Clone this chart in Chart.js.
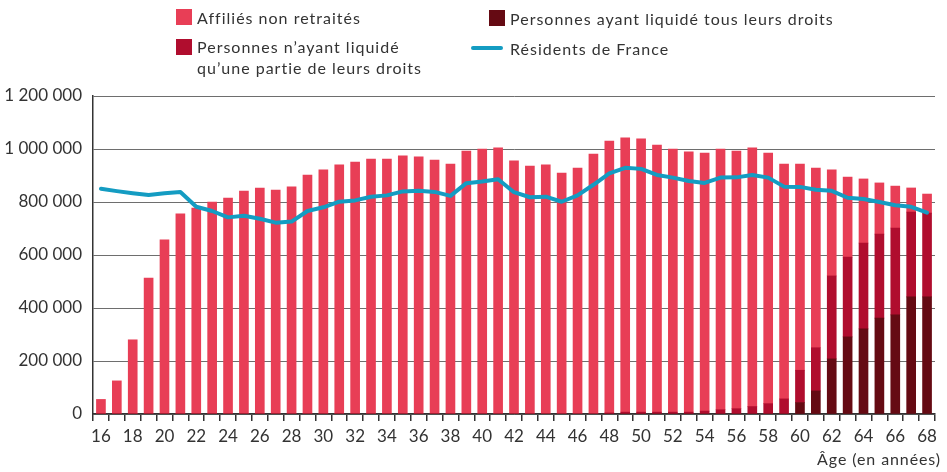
<!DOCTYPE html>
<html lang="fr">
<head>
<meta charset="utf-8">
<title>Affiliés par âge</title>
<script src="https://cdn.jsdelivr.net/npm/chart.js@4"></script>
<style>
  body { margin: 0; background: #fff; font-family: Lato, "Open Sans", sans-serif; color: #333; }
  #wrap { position: relative; width: 947px; height: 472px; }
  .sq { position: absolute; width: 16px; height: 16px; }
  .lbl { position: absolute; font-size: 16px; line-height: 21px; letter-spacing: 1px; white-space: nowrap; color: #333; }
  .ln { position: absolute; width: 32px; height: 4px; border-radius: 2px; background: #149cc2; }
  #xtitle { position: absolute; right: 6px; top: 449px; font-size: 16px; letter-spacing: 0.9px; color: #333; }
</style>
</head>
<body>
<div id="wrap">
  <canvas id="ageChart" width="947" height="472"></canvas>

  <div class="sq" style="left:176px;top:9px;background:#e83e56"></div>
  <div class="lbl" style="left:197px;top:7px">Affiliés non retraités</div>

  <div class="sq" style="left:176px;top:39px;background:#b00d2e"></div>
  <div class="lbl" style="left:197px;top:36px">Personnes n’ayant liquidé<br>qu’une partie de leurs droits</div>

  <div class="sq" style="left:489px;top:10px;background:#650a13"></div>
  <div class="lbl" style="left:510px;top:8px">Personnes ayant liquidé tous leurs droits</div>

  <div class="ln" style="left:471px;top:46px"></div>
  <div class="lbl" style="left:510px;top:38px">Résidents de France</div>

  <div id="xtitle">Âge (en années)</div>
</div>
<script>
// Ages 16 à 68
const ages = [16, 17, 18, 19, 20, 21, 22, 23, 24, 25, 26, 27, 28, 29, 30, 31, 32, 33, 34, 35,
  36, 37, 38, 39, 40, 41, 42, 43, 44, 45, 46, 47, 48, 49, 50, 51, 52, 53, 54, 55,
  56, 57, 58, 59, 60, 61, 62, 63, 64, 65, 66, 67, 68];

// Affiliés non retraités
const nonRetraites = [55000, 125000, 280000, 513000, 657000, 755000, 777000, 800000, 815000, 841000,
  853000, 845000, 857000, 902000, 921000, 940000, 951000, 962000, 962000, 974000,
  970000, 958000, 943000, 992000, 1000000, 1004000, 955000, 936000, 940000, 909000,
  928000, 981000, 1026000, 1035000, 1031000, 1008000, 993000, 982000, 974000, 984000,
  972000, 976000, 946000, 886000, 778000, 678000, 400000, 302000, 242000, 193000,
  158000, 91000, 72000];

// Personnes n'ayant liquidé qu'une partie de leurs droits
const partiel = [0, 0, 0, 0, 0, 0, 0, 0, 0, 0,
  0, 0, 0, 0, 0, 0, 0, 0, 0, 0,
  0, 0, 0, 0, 0, 0, 0, 0, 0, 0,
  0, 0, 4000, 7000, 7000, 7000, 7000, 7000, 11000, 16000,
  20000, 28000, 39000, 57000, 122000, 163000, 313000, 301000, 324000, 317000,
  328000, 320000, 316000];

// Personnes ayant liquidé tous leurs droits
const total = [0, 0, 0, 0, 0, 0, 0, 0, 0, 0,
  0, 0, 0, 0, 0, 0, 0, 0, 0, 0,
  0, 0, 0, 0, 0, 0, 0, 0, 0, 0,
  0, 0, 0, 0, 0, 0, 0, 0, 0, 0,
  0, 0, 0, 0, 43000, 87000, 208000, 291000, 321000, 362000,
  374000, 442000, 442000];

// Résidents de France
const residents = [850000, 841000, 833000, 826000, 833000, 838000, 782000, 766000, 742000, 748000,
  737000, 722000, 726000, 766000, 780000, 801000, 806000, 820000, 825000, 840000,
  842000, 838000, 823000, 871000, 877000, 886000, 837000, 818000, 820000, 801000,
  825000, 865000, 908000, 929000, 925000, 902000, 892000, 879000, 872000, 892000,
  893000, 902000, 892000, 858000, 857000, 846000, 842000, 816000, 811000, 800000,
  788000, 782000, 760000];

const yMax = 1200000;
const yStep = 200000;

function formatNumber(v) {
  return String(v).replace(/\B(?=(\d{3})+(?!\d))/g, " ");
}

const ctx = document.getElementById("ageChart").getContext("2d");
const ageChart = new Chart(ctx, {
  type: "bar",
  data: {
    labels: ages,
    datasets: [
      {
        type: "line",
        label: "Résidents de France",
        data: residents,
        stack: "res",
        borderColor: "#149cc2",
        borderWidth: 4,
        pointRadius: 0,
        tension: 0,
        borderJoinStyle: "round",
        borderCapStyle: "round",
        order: 0,
      },
      {
        label: "Personnes ayant liquidé tous leurs droits",
        data: total,
        stack: "aff",
        backgroundColor: "#650a13",
        barThickness: 9,
        order: 1,
      },
      {
        label: "Personnes n’ayant liquidé qu’une partie de leurs droits",
        data: partiel,
        stack: "aff",
        backgroundColor: "#b00d2e",
        barThickness: 9,
        order: 1,
      },
      {
        label: "Affiliés non retraités",
        data: nonRetraites,
        stack: "aff",
        backgroundColor: "#e83e56",
        barThickness: 9,
        order: 1,
      },
    ],
  },
  options: {
    responsive: false,
    animation: false,
    layout: { padding: { top: 96, right: 12, left: 0, bottom: 0 } },
    plugins: {
      legend: { display: false },
      tooltip: { enabled: false },
    },
    scales: {
      x: {
        stacked: true,
        offset: true,
        grid: {
          offset: true,
          drawOnChartArea: false,
          color: "#333",
          tickLength: 7,
          lineWidth: 1.5,
        },
        border: { color: "#333", width: 1.5 },
        ticks: {
          autoSkip: false,
          maxRotation: 0,
          color: "#333",
          font: { family: "Lato", size: 17 },
          padding: 5,
          callback: function (value, index) {
            return ages[index] % 2 === 0 ? String(ages[index]) : "";
          },
        },
        afterFit: function (scale) {
          scale.height = 58;
        },
      },
      y: {
        stacked: true,
        min: 0,
        max: yMax,
        grid: {
          color: "#6e6e6e",
          lineWidth: 1,
          drawTicks: false,
        },
        border: { color: "#333", width: 1.5 },
        ticks: {
          stepSize: yStep,
          color: "#333",
          padding: 11,
          font: { family: "Lato", size: 17 },
          callback: (value) => formatNumber(value),
        },
        afterFit: function (scale) {
          scale.width = 93;
        },
      },
    },
  },
});
</script>
</body>
</html>
